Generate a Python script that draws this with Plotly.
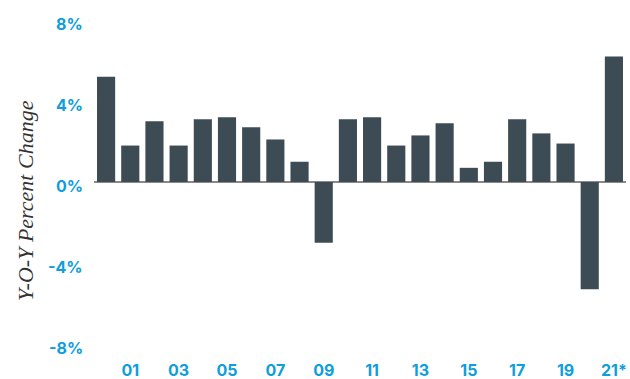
import plotly.graph_objects as go

years = list(range(2000, 2022))
values = [5.2, 1.8, 3.0, 1.8, 3.1, 3.2, 2.7, 2.1, 1.0, -3.0, 3.1, 3.2, 1.8, 2.3, 2.9, 0.7, 1.0, 3.1, 2.4, 1.9, -5.3, 6.2]
x_tickvals = [2001, 2003, 2005, 2007, 2009, 2011, 2013, 2015, 2017, 2019, 2021]
x_ticktext = ["01", "03", "05", "07", "09", "11", "13", "15", "17", "19", "21*"]
y_tickvals = [8, 4, 0, -4, -8]
y_ticktext = ["8%", "4%", "0%", "-4%", "-8%"]

BLUE = "#0f9ddc"
BAR = "#3d4b54"
TICKFONT = dict(family="Inter", size=16, color=BLUE, weight="bold")

fig = go.Figure(go.Bar(x=years, y=values, marker_color=BAR, marker_line_width=0))

fig.update_layout(
    width=630, height=379,
    margin=dict(l=94, r=4, t=20, b=35, autoexpand=False),
    plot_bgcolor="white", paper_bgcolor="white",
    bargap=0.25,
    showlegend=False,
    xaxis=dict(
        range=[1999.5, 2021.5],
        tickvals=x_tickvals, ticktext=x_ticktext,
        tickfont=TICKFONT, showgrid=False, showline=False, ticks="",
        ticklabelstandoff=15, automargin=False,
    ),
    yaxis=dict(
        range=[-8, 8], tickvals=y_tickvals, showticklabels=False,
        showgrid=False, zeroline=True, zerolinecolor="#8a8a8a", zerolinewidth=2,
        showline=False, ticks="", automargin=False,
    ),
)

for v, t in zip(y_tickvals, y_ticktext):
    fig.add_annotation(x=0, xref="paper", xanchor="right", xshift=-9,
                       y=v, yref="y", yshift=-4, text=t, showarrow=False,
                       font=TICKFONT)

fig.add_annotation(x=(25 - 94) / (630 - 98), xref="paper", xanchor="center",
                   y=1 - (201 - 20) / (379 - 55), yref="paper", yanchor="middle",
                   text="Y-O-Y Percent Change", showarrow=False, textangle=-90,
                   font=dict(family="Liberation Serif", size=22, color="#333333", style="italic"))

fig.write_html("out.html")
